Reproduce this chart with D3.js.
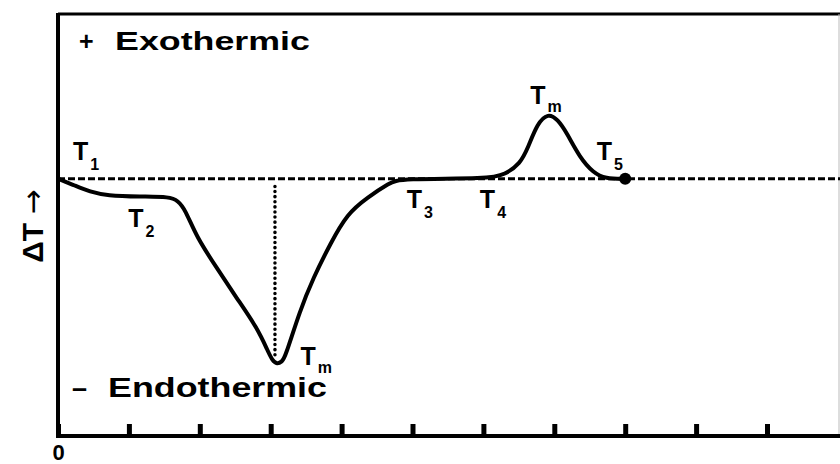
<!DOCTYPE html>
<html>
  <head>
    <meta charset="utf-8" />
    <title>DTA curve</title>
    <script src="https://d3js.org/d3.v7.min.js"></script>
    <style>
      body { margin: 0; background: white; }
      text { font-family: "Liberation Sans", Arial, sans-serif; font-weight: bold; fill: black; }
    </style>
  </head>
  <body>
    <svg width="840" height="464" id="chart"></svg>

    <script>
      // temperature (x) and delta T (y)
      var traceX = [0, 0.24, 0.45, 0.69, 1.16, 1.58, 1.69, 1.79, 1.96, 2.24, 2.52, 2.81, 2.96, 3.02, 3.09,
                    3.16, 3.2, 3.41, 3.6, 3.84, 4.08, 4.36, 4.68, 4.82, 6.09, 6.3, 6.52, 6.63, 6.76,
                    6.91, 7.05, 7.18, 7.36, 7.55, 7.72, 8.0];
      var traceY = [0, -0.27, -0.51, -0.66, -0.7, -0.7, -0.86, -1.17, -2.3, -3.47, -4.64, -5.8, -6.7, -7.05, -7.22,
                    -7.1, -6.97, -5.14, -3.86, -2.53, -1.36, -0.74, -0.16, 0, 0, 0.16, 0.58, 1.21, 2.14,
                    2.55, 2.3, 1.76, 0.82, 0.23, 0, 0];

      var xTicks = [0, 1, 2, 3, 4, 5, 6, 7, 8, 9, 10];
      var meltX = 3.06;     // endothermic minimum
      var endPoint = [8.0, 0];

      // point labels: main letter, subscript, anchor in data units
      var labelText = ["T", "T", "T", "T", "T", "T", "T"];
      var labelSub  = ["1", "2", "m", "3", "4", "m", "5"];
      var labelX    = [0.21, 0.99, 3.42, 4.92, 5.95, 6.66, 7.6];
      var labelY    = [0.71, -1.87, -7.25, -1.12, -1.12, 2.91, 0.71];

      var svg = d3.select("#chart");
      var mLeft = 58, mRight = 840, mTop = 14, mBottom = 436;

      var x = d3.scaleLinear().domain([0, 11]).range([mLeft, mLeft + 11 * 70.9]);
      var y = d3.scaleLinear().domain([-10, 6.4]).range([mBottom, mTop]);

      // top border and faint right edge
      svg.append("line")
          .attr("x1", mLeft).attr("x2", mRight)
          .attr("y1", mTop).attr("y2", mTop)
          .attr("stroke", "black").attr("stroke-width", 3);
      svg.append("line")
          .attr("x1", 839).attr("x2", 839)
          .attr("y1", mTop).attr("y2", mBottom)
          .attr("stroke", "#bbb").attr("stroke-width", 1);

      // dashed baseline
      svg.append("line")
          .attr("x1", x(0)).attr("x2", mRight)
          .attr("y1", y(0)).attr("y2", y(0))
          .attr("stroke", "black").attr("stroke-width", 3)
          .attr("stroke-dasharray", "7,3");

      // dotted drop line at the minimum
      svg.append("line")
          .attr("x1", x(meltX)).attr("x2", x(meltX))
          .attr("y1", y(-0.3)).attr("y2", y(-6.9))
          .attr("stroke", "black").attr("stroke-width", 3.5)
          .attr("stroke-linecap", "round")
          .attr("stroke-dasharray", "0.1,5");

      // the trace
      var points = traceX.map(function(d, i){ return [d, traceY[i]]; });
      var line = d3.line()
          .x(function(d){ return x(d[0]); })
          .y(function(d){ return y(d[1]); })
          .curve(d3.curveBasis);
      svg.append("path")
          .datum(points)
          .attr("d", line)
          .attr("fill", "none")
          .attr("stroke", "black")
          .attr("stroke-width", 4)
          .attr("stroke-linejoin", "round");

      svg.append("circle")
          .attr("cx", x(endPoint[0])).attr("cy", y(endPoint[1]))
          .attr("r", 6).attr("fill", "black");

      // x axis with inward ticks
      var xAxis = d3.axisBottom(x)
          .tickValues(xTicks)
          .tickSizeInner(-12)
          .tickSizeOuter(0)
          .tickPadding(8)
          .tickFormat(function(d){ return d === 0 ? "0" : ""; });
      var gx = svg.append("g")
          .attr("transform", "translate(0," + mBottom + ")")
          .call(xAxis);
      gx.select(".domain").attr("stroke-width", 4).attr("d", "M" + mLeft + ",0H" + mRight);
      gx.selectAll(".tick line").attr("stroke-width", 5);
      gx.selectAll(".tick text")
          .attr("font-size", 22)
          .attr("font-family", "Liberation Sans, Arial, sans-serif")
          .attr("font-weight", "bold");

      // y axis line
      svg.append("line")
          .attr("x1", mLeft).attr("x2", mLeft)
          .attr("y1", mTop - 1).attr("y2", mBottom + 2)
          .attr("stroke", "black").attr("stroke-width", 4);

      // y label
      var yl = svg.append("text")
          .attr("transform", "translate(43,226) rotate(-90)")
          .attr("text-anchor", "middle")
          .attr("font-size", 30);
      yl.append("tspan").text("\u0394T ");
      yl.append("tspan").attr("font-family", "DejaVu Sans").attr("font-weight", "normal").text("\u2192");

      // exo / endo annotations
      svg.append("text").attr("x", 79).attr("y", 50).attr("font-size", 25).text("+");
      svg.append("text").attr("x", 115).attr("y", 50).attr("font-size", 25)
          .attr("textLength", 195).attr("lengthAdjust", "spacingAndGlyphs")
          .text("Exothermic");
      svg.append("text").attr("x", 72).attr("y", 397).attr("font-size", 27).text("\u2013");
      svg.append("text").attr("x", 108).attr("y", 397).attr("font-size", 28)
          .attr("textLength", 219).attr("lengthAdjust", "spacingAndGlyphs")
          .text("Endothermic");

      // T labels with subscripts
      labelText.forEach(function(t, i){
        var g = svg.append("text")
            .attr("x", x(labelX[i]))
            .attr("y", y(labelY[i]))
            .attr("font-size", 25);
        g.append("tspan").text(t);
        g.append("tspan")
            .attr("dx", 2)
            .attr("dy", labelSub[i] === "m" ? 8 : 10)
            .attr("font-size", 16)
            .text(labelSub[i]);
      });
    </script>
  </body>
</html>
